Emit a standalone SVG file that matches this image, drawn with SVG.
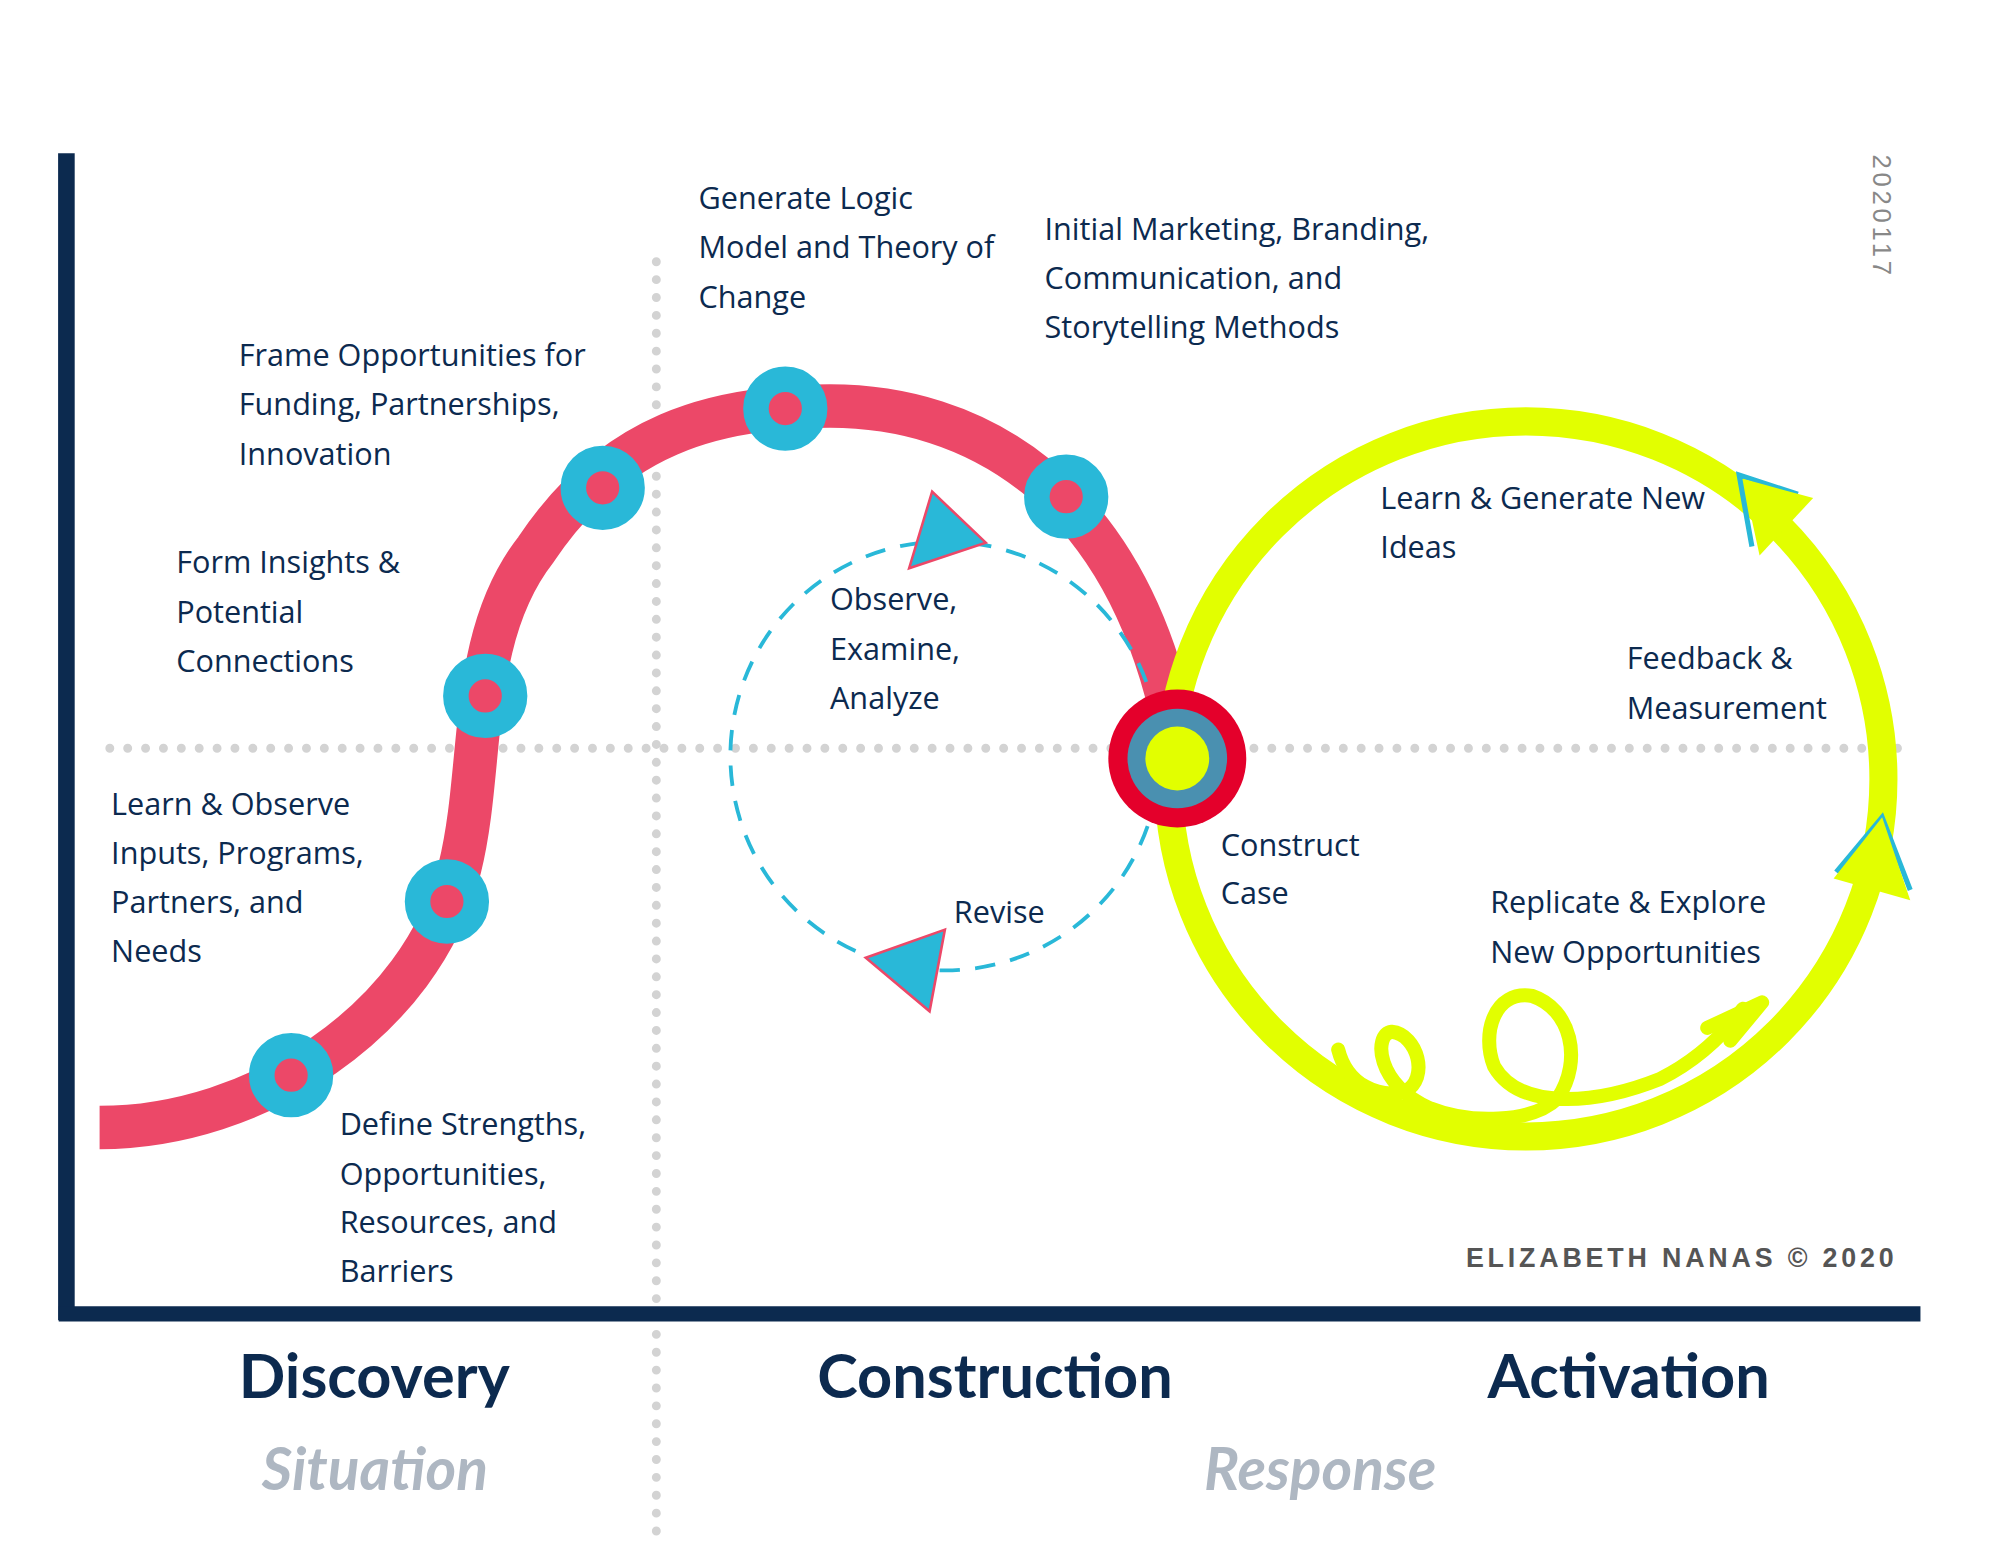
<svg xmlns="http://www.w3.org/2000/svg" width="2000" height="1545" viewBox="0 0 2000 1545">
<style>
.t{font-family:"Open Sans","Liberation Sans",sans-serif;font-size:24px;fill:#0C2A4F}
.h{font-family:"Lato","Liberation Sans",sans-serif;font-size:48px;font-weight:bold;fill:#0C2A4F}
.s{font-family:"Lato","Liberation Sans",sans-serif;font-size:46px;font-style:italic;font-weight:bold;fill:#AEB7C2}
.dot{stroke:#D3D3D3;stroke-width:7;stroke-linecap:round;stroke-dasharray:0 14;fill:none}
.ring{fill:#EC4868;stroke:#29B8D8;stroke-width:20}
</style>
<rect width="2000" height="1545" fill="#fff"/>
<g transform="scale(1.2769)">
<g id="axes">
<line class="dot" x1="514" y1="205" x2="514" y2="1210"/>
<line class="dot" x1="86" y1="586" x2="1495" y2="586"/>
<line x1="52" y1="120" x2="52" y2="1034" stroke="#0C2A4F" stroke-width="13"/>
<line x1="46" y1="1029" x2="1504" y2="1029" stroke="#0C2A4F" stroke-width="12"/>
</g>
<g id="connectors">
<path d="M78,883 C200,883 330,800 360,680 C380,600 365,500 420,430 C480,340 560,318 650,318 C760,318 880,380 920,570" fill="none" stroke="#EC4868" stroke-width="34"/>
<ellipse cx="740" cy="592" rx="168" ry="168" fill="none" stroke="#29B8D8" stroke-width="3" stroke-dasharray="16 12"/>
<polygon points="712,445 772,425 730,385" fill="#29B8D8" stroke="#EC4868" stroke-width="2"/>
<polygon points="740,728 678,750 728,792" fill="#29B8D8" stroke="#EC4868" stroke-width="2"/>
<ellipse cx="1195" cy="610" rx="280" ry="280" fill="none" stroke="#E2FF00" stroke-width="22"/>
<polyline points="1408,387 1362,372 1372,428" fill="none" stroke="#29B8D8" stroke-width="4"/>
<polygon points="1420,390 1365,375 1378,435" fill="#E2FF00"/>
<polyline points="1438,683 1474,640 1496,697" fill="none" stroke="#29B8D8" stroke-width="4"/>
<polygon points="1436,688 1474,640 1496,705" fill="#E2FF00"/>
<path d="M1048,822 C1055,850 1080,860 1100,855 C1120,845 1110,810 1090,808 C1075,810 1078,850 1120,868 C1150,880 1200,880 1220,860 C1240,830 1230,790 1200,780 C1170,775 1160,810 1170,835 C1190,870 1250,865 1300,845 C1330,830 1350,810 1365,790" fill="none" stroke="#E2FF00" stroke-width="11" stroke-linecap="round" stroke-linejoin="round"/>
<polyline points="1337,805 1380,785 1355,815" fill="none" stroke="#E2FF00" stroke-width="11" stroke-linecap="round" stroke-linejoin="round"/>
</g>
<g id="n1"><circle class="ring" cx="228" cy="842" r="23"/></g>
<g id="n2"><circle class="ring" cx="350" cy="706" r="23"/></g>
<g id="n3"><circle class="ring" cx="380" cy="545" r="23"/></g>
<g id="n4"><circle class="ring" cx="472" cy="382" r="23"/></g>
<g id="n5"><circle class="ring" cx="615" cy="320" r="23"/></g>
<g id="n6"><circle class="ring" cx="835" cy="389" r="23"/></g>
<g id="center"><circle cx="922" cy="594" r="54" fill="#E4002B"/><circle cx="922" cy="594" r="39" fill="#4A90B0"/><circle cx="922" cy="594" r="25" fill="#E2FF00"/></g>
<g id="labels">
<text class="t" x="547" y="164">Generate Logic</text><text class="t" x="547" y="202">Model and Theory of</text><text class="t" x="547" y="241">Change</text>
<text class="t" x="818" y="188">Initial Marketing, Branding,</text><text class="t" x="818" y="226">Communication, and</text><text class="t" x="818" y="265">Storytelling Methods</text>
<text class="t" x="187" y="287">Frame Opportunities for</text><text class="t" x="187" y="325">Funding, Partnerships,</text><text class="t" x="187" y="364">Innovation</text>
<text class="t" x="138" y="449">Form Insights &amp;</text><text class="t" x="138" y="488">Potential</text><text class="t" x="138" y="526">Connections</text>
<text class="t" x="87" y="638">Learn &amp; Observe</text><text class="t" x="87" y="677">Inputs, Programs,</text><text class="t" x="87" y="715">Partners, and</text><text class="t" x="87" y="753">Needs</text>
<text class="t" x="266" y="889">Define Strengths,</text><text class="t" x="266" y="928">Opportunities,</text><text class="t" x="266" y="966">Resources, and</text><text class="t" x="266" y="1004">Barriers</text>
<text class="t" x="650" y="478">Observe,</text><text class="t" x="650" y="517">Examine,</text><text class="t" x="650" y="555">Analyze</text>
<text class="t" x="747" y="723">Revise</text>
<text class="t" x="956" y="670">Construct</text><text class="t" x="956" y="708">Case</text>
<text class="t" x="1081" y="399">Learn &amp; Generate New</text><text class="t" x="1081" y="437">Ideas</text>
<text class="t" x="1274" y="524">Feedback &amp;</text><text class="t" x="1274" y="563">Measurement</text>
<text class="t" x="1167" y="715">Replicate &amp; Explore</text><text class="t" x="1167" y="754">New Opportunities</text>
<text x="1148" y="992" style="font-family:'Liberation Sans',sans-serif;font-size:21px;font-weight:bold;fill:#555;letter-spacing:3px">ELIZABETH NANAS © 2020</text>
<text transform="translate(1467,121) rotate(90)" style="font-family:'Liberation Sans',sans-serif;font-size:20px;fill:#888;letter-spacing:3px">2020117</text>
<text class="h" x="187" y="1095">Discovery</text><text class="h" x="640" y="1095">Construction</text><text class="h" x="1165" y="1095">Activation</text>
<text class="s" x="205" y="1167">Situation</text><text class="s" x="943" y="1167">Response</text>
</g>
</g>
</svg>
